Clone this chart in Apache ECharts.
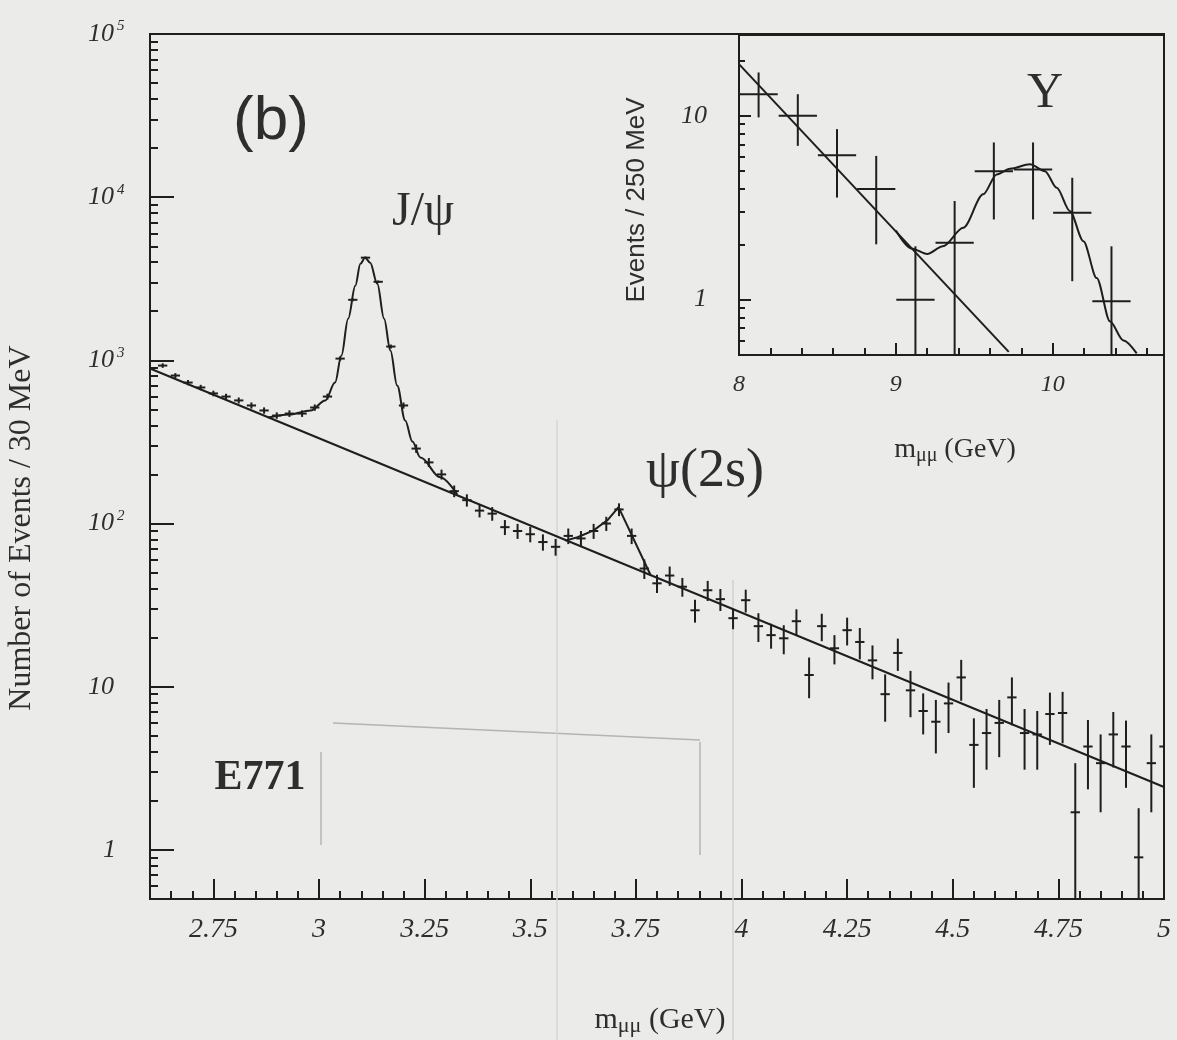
<!DOCTYPE html>
<html>
<head>
<meta charset="utf-8">
<title>E771 dimuon mass spectrum</title>
<script src="https://cdn.jsdelivr.net/npm/echarts@6.0.0/dist/echarts.min.js"></script>
<style>
html, body { margin: 0; padding: 0; background: #ebebea; }
#chart { width: 1177px; height: 1040px; }
</style>
</head>
<body>
<div id="chart"></div>
<script>
// main panel, 30 MeV bins
var massMain = [
  2.63, 2.66, 2.69, 2.72, 2.75, 2.78, 2.81, 2.84, 2.87, 2.90,
  2.93, 2.96, 2.99, 3.02, 3.05, 3.08, 3.11, 3.14, 3.17, 3.20,
  3.23, 3.26, 3.29, 3.32, 3.35, 3.38, 3.41, 3.44, 3.47, 3.50,
  3.53, 3.56, 3.59, 3.62, 3.65, 3.68, 3.71, 3.74, 3.77, 3.80,
  3.83, 3.86, 3.89, 3.92, 3.95, 3.98, 4.01, 4.04, 4.07, 4.10,
  4.13, 4.16, 4.19, 4.22, 4.25, 4.28, 4.31, 4.34, 4.37, 4.40,
  4.43, 4.46, 4.49, 4.52, 4.55, 4.58, 4.61, 4.64, 4.67, 4.70,
  4.73, 4.76, 4.79, 4.82, 4.85, 4.88, 4.91, 4.94, 4.97, 5.00
];
var countsMain = [
  929, 807, 731, 682, 627, 600, 568, 529, 493, 459,
  472, 472, 514, 600, 1025, 2350, 4260, 3030, 1215, 529,
  288, 237, 200, 158, 139, 120, 115, 95, 90, 86,
  77, 72, 84, 81, 90, 100, 122, 84, 53, 43,
  48, 41, 29.4, 39, 34.4, 26.3, 33.9, 23.5, 20.7, 19.8,
  25.2, 11.8, 23.5, 17.2, 22.2, 18.8, 14.5, 9.0, 16.1, 9.5,
  7.1, 6.1, 7.9, 11.4, 4.4, 5.2, 6.0, 8.6, 5.2, 5.1,
  6.8, 6.9, 1.7, 4.3, 3.4, 5.1, 4.3, 0.9, 3.4, 4.3
];
var errMain = [
  30, 28, 27, 26, 25, 24, 24, 23, 22, 21,
  22, 22, 23, 25, 32, 48, 65, 55, 35, 23,
  17, 15, 14, 13, 12, 11, 11, 10, 9.5, 9.3,
  8.8, 8.5, 9.2, 9, 9.5, 10, 11, 9.2, 7.3, 5.5,
  6.5, 5.4, 4.7, 5.5, 5.3, 3.8, 5.4, 4.7, 3.6, 4.0,
  4.6, 3.3, 4.5, 3.5, 4.3, 4.1, 3.4, 2.9, 3.6, 3.0,
  2.0, 2.2, 2.7, 3.2, 2.0, 2.1, 2.3, 2.8, 2.1, 2.0,
  2.4, 2.4, 1.7, 1.95, 1.7, 1.9, 1.9, 0.9, 1.7, 1.85
];
// fitted curves (the total follows the background outside the peaks)
var bgMain = [[2.60, 891], [5.00, 2.43]];
var fitJpsi = [
  [2.88, 447], [2.93, 466], [2.98, 493], [3.015, 568], [3.038, 731],
  [3.053, 1070], [3.069, 1800], [3.086, 2870], [3.098, 3910], [3.109, 4260],
  [3.121, 3970], [3.138, 2950], [3.154, 1800], [3.169, 1148], [3.185, 701],
  [3.204, 428], [3.221, 318], [3.240, 254], [3.287, 192], [3.327, 151]
];
var fitPsi2s = [[3.583, 78.6], [3.612, 82.4], [3.650, 90.8], [3.683, 105], [3.709, 126], [3.785, 48.2]];

// inset, 250 MeV bins
var massInset = [8.125, 8.375, 8.625, 8.875, 9.125, 9.375, 9.625, 9.875, 10.125, 10.375];
var countsInset = [13.1, 10.0, 6.1, 4.0, 1.0, 2.04, 5.0, 5.1, 2.97, 0.98];
var lowInset = [9.8, 6.86, 3.59, 2.0, 0, 0, 2.73, 2.73, 1.26, 0];
var highInset = [17.2, 13.1, 8.46, 6.05, 1.95, 3.44, 7.16, 7.16, 4.6, 1.95];
var bgInset = [[8.0, 19.1], [9.72, 0.52]];
var fitUpsilon = [
  [9.0, 2.38], [9.1, 1.9], [9.2, 1.77], [9.3, 1.95], [9.43, 2.46],
  [9.557, 3.74], [9.643, 4.8], [9.728, 5.15], [9.855, 5.45], [9.951, 5.0],
  [10.026, 4.06], [10.11, 3.03], [10.196, 2.08], [10.281, 1.31], [10.366, 0.76],
  [10.451, 0.6], [10.536, 0.51]
];

// tick labels
var xLabelsMain = [2.75, 3, 3.25, 3.5, 3.75, 4, 4.25, 4.5, 4.75, 5];
var yLabelsMain = [1, 10, 100, 1000, 10000, 100000];
var xLabelsInset = [8, 9, 10];
var yLabelsInset = [1, 10];

var ink = '#1e1e1e';
var textInk = '#2e2e2e';
var serif = '"Liberation Serif", "DejaVu Serif", serif';
var sans = '"Liberation Sans", "DejaVu Sans", sans-serif';
var yMinMain = 0.5, yMinInset = 0.5;

// minor tick positions
var minorXMain = [];
for (var k = 53; k <= 99; k++) {
  if (k % 5 !== 0) minorXMain.push(k * 0.05);
}
var minorXInset = [8.2, 8.4, 8.6, 8.8, 9.2, 9.4, 9.6, 9.8, 10.2, 10.4, 10.6];
var minorYMain = [0.6, 0.7, 0.8, 0.9];
[1, 10, 100, 1000, 10000].forEach(function (d) {
  for (var m = 2; m <= 9; m++) minorYMain.push(m * d);
});
var minorYInset = [0.6, 0.7, 0.8, 0.9, 2, 3, 4, 5, 6, 7, 8, 9, 20];

var mainPoints = massMain.map(function (m, i) {
  return [m, countsMain[i], Math.max(countsMain[i] - errMain[i], yMinMain), countsMain[i] + errMain[i]];
});
var insetPoints = massInset.map(function (m, i) {
  return [m, countsInset[i], Math.max(lowInset[i], yMinInset), highInset[i]];
});

function errorCross(halfW, width) {
  return function (params, api) {
    var x = api.value(0), y = api.value(1);
    var c = api.coord([x, y]);
    var l = api.coord([x - halfW, y]);
    var r = api.coord([x + halfW, y]);
    var t = api.coord([x, api.value(3)]);
    var b = api.coord([x, api.value(2)]);
    var st = { stroke: ink, lineWidth: width };
    return {
      type: 'group',
      children: [
        { type: 'line', shape: { x1: l[0], y1: c[1], x2: r[0], y2: c[1] }, style: st },
        { type: 'line', shape: { x1: c[0], y1: t[1], x2: c[0], y2: b[1] }, style: st }
      ]
    };
  };
}

function tickAxis(grid, type, min, max, pos, values, len, label) {
  return {
    gridIndex: grid, type: type, min: min, max: max, position: pos,
    axisLine: { show: false, onZero: false },
    splitLine: { show: false },
    axisTick: { show: true, inside: true, length: len, customValues: values, lineStyle: { color: ink, width: 2 } },
    axisLabel: label || { show: false }
  };
}

function logLabel(v) {
  var e = Math.round(Math.log10(v));
  if (e === 0) return '{one|1}';
  if (e === 1) return '{b|10}';
  return '{b|10}{s|' + e + '}';
}

var chart = echarts.init(document.getElementById('chart'));
chart.setOption({
  animation: false,
  backgroundColor: '#ebebea',
  grid: [
    { left: 150, top: 34, width: 1014, height: 865, show: true, borderColor: ink, borderWidth: 2,
      containLabel: false, outerBoundsMode: 'none' },
    { left: 739, top: 35, width: 425, height: 320, show: true, borderColor: ink, borderWidth: 2,
      containLabel: false, outerBoundsMode: 'none' }
  ],
  xAxis: [
    tickAxis(0, 'value', 2.6, 5, 'bottom', xLabelsMain, 20, {
      customValues: xLabelsMain, margin: 17, color: textInk,
      fontFamily: serif, fontStyle: 'italic', fontSize: 28,
      formatter: function (v) { return String(v); }
    }),
    tickAxis(0, 'value', 2.6, 5, 'bottom', minorXMain, 8),
    tickAxis(1, 'value', 8, 10.71, 'bottom', xLabelsInset, 12, {
      customValues: xLabelsInset, margin: 18, color: textInk,
      fontFamily: serif, fontStyle: 'italic', fontSize: 24,
      formatter: function (v) { return String(v); }
    }),
    tickAxis(1, 'value', 8, 10.71, 'bottom', minorXInset, 7)
  ],
  yAxis: [
    tickAxis(0, 'log', yMinMain, 100000, 'left', yLabelsMain, 24, {
      customValues: yLabelsMain, margin: 62, align: 'left',
      formatter: logLabel,
      rich: {
        b: { fontFamily: serif, fontStyle: 'italic', fontSize: 26, color: textInk, lineHeight: 30 },
        s: { fontFamily: serif, fontStyle: 'italic', fontSize: 15, color: textInk, verticalAlign: 'top', padding: [0, 0, 0, 3] },
        one: { fontFamily: serif, fontStyle: 'italic', fontSize: 26, color: textInk, padding: [0, 0, 0, 15] }
      }
    }),
    tickAxis(0, 'log', yMinMain, 100000, 'left', minorYMain, 8),
    tickAxis(1, 'log', yMinInset, 27.5, 'left', yLabelsInset, 12, {
      customValues: yLabelsInset, margin: 32, color: textInk,
      fontFamily: serif, fontStyle: 'italic', fontSize: 26,
      formatter: function (v) { return String(Math.round(v)); }
    }),
    tickAxis(1, 'log', yMinInset, 27.5, 'left', minorYInset, 6)
  ],
  series: [
    { type: 'line', xAxisIndex: 0, yAxisIndex: 0, data: bgMain, symbol: 'none', silent: true,
      lineStyle: { color: ink, width: 2 } },
    { type: 'line', xAxisIndex: 0, yAxisIndex: 0, data: fitJpsi, symbol: 'none', silent: true,
      smooth: 0.35, smoothMonotone: 'x', lineStyle: { color: ink, width: 2 } },
    { type: 'line', xAxisIndex: 0, yAxisIndex: 0, data: fitPsi2s, symbol: 'none', silent: true,
      lineStyle: { color: ink, width: 2 } },
    { type: 'custom', xAxisIndex: 0, yAxisIndex: 0, data: mainPoints, clip: true, silent: true,
      encode: { x: 0, y: 1 }, renderItem: errorCross(0.011, 2) },
    { type: 'line', xAxisIndex: 2, yAxisIndex: 2, data: bgInset, symbol: 'none', silent: true, clip: true,
      lineStyle: { color: ink, width: 2 } },
    { type: 'line', xAxisIndex: 2, yAxisIndex: 2, data: fitUpsilon, symbol: 'none', silent: true, clip: true,
      smooth: 0.3, smoothMonotone: 'x', lineStyle: { color: ink, width: 2 } },
    { type: 'custom', xAxisIndex: 2, yAxisIndex: 2, data: insetPoints, clip: true, silent: true,
      encode: { x: 0, y: 1 }, renderItem: errorCross(0.122, 2) }
  ],
  graphic: [
    // faint photocopy marks
    { type: 'line', silent: true, shape: { x1: 333, y1: 723, x2: 700, y2: 740 }, style: { stroke: '#b4b4b4', lineWidth: 1.5 } },
    { type: 'line', silent: true, shape: { x1: 321, y1: 752, x2: 321, y2: 845 }, style: { stroke: '#b4b4b4', lineWidth: 1.5 } },
    { type: 'line', silent: true, shape: { x1: 700, y1: 742, x2: 700, y2: 855 }, style: { stroke: '#b4b4b4', lineWidth: 1.5 } },
    { type: 'line', silent: true, shape: { x1: 557, y1: 420, x2: 557, y2: 1040 }, style: { stroke: '#d6d6d6', lineWidth: 1.5 } },
    { type: 'line', silent: true, shape: { x1: 733, y1: 580, x2: 733, y2: 1040 }, style: { stroke: '#d0d0d0', lineWidth: 1.5 } },
    // annotations
    { type: 'text', x: 271, y: 122, style: { text: '(b)', font: '62px ' + sans, fill: textInk, textAlign: 'center', textVerticalAlign: 'middle' } },
    { type: 'text', x: 423, y: 212, style: { text: 'J/ψ', font: '48px ' + serif, fill: textInk, textAlign: 'center', textVerticalAlign: 'middle' } },
    { type: 'text', x: 705, y: 472, style: { text: 'ψ(2s)', font: '54px ' + serif, fill: textInk, textAlign: 'center', textVerticalAlign: 'middle' } },
    { type: 'text', x: 260, y: 778, style: { text: 'E771', font: 'bold 42px ' + serif, fill: textInk, textAlign: 'center', textVerticalAlign: 'middle' } },
    { type: 'text', x: 1045, y: 94, style: { text: 'Y', font: '50px ' + serif, fill: textInk, textAlign: 'center', textVerticalAlign: 'middle' } },
    // axis titles
    { type: 'text', x: 22, y: 528, rotation: Math.PI / 2,
      style: { text: 'Number of Events / 30 MeV', font: '32px ' + serif, fill: textInk, textAlign: 'center', textVerticalAlign: 'middle' } },
    { type: 'text', x: 637, y: 200, rotation: Math.PI / 2,
      style: { text: 'Events / 250 MeV', font: '26px ' + sans, fill: textInk, textAlign: 'center', textVerticalAlign: 'middle' } },
    { type: 'text', x: 660, y: 1020,
      style: { text: '{m|m}{s|μμ}{m| (GeV)}', fill: textInk, textAlign: 'center', textVerticalAlign: 'middle',
        rich: { m: { font: '30px ' + serif, fill: textInk, lineHeight: 34 }, s: { font: '22px ' + serif, fill: textInk, verticalAlign: 'bottom' } } } },
    { type: 'text', x: 955, y: 450,
      style: { text: '{m|m}{s|μμ}{m| (GeV)}', fill: textInk, textAlign: 'center', textVerticalAlign: 'middle',
        rich: { m: { font: '28px ' + serif, fill: textInk, lineHeight: 32 }, s: { font: '20px ' + serif, fill: textInk, verticalAlign: 'bottom' } } } }
  ]
});
</script>
</body>
</html>
